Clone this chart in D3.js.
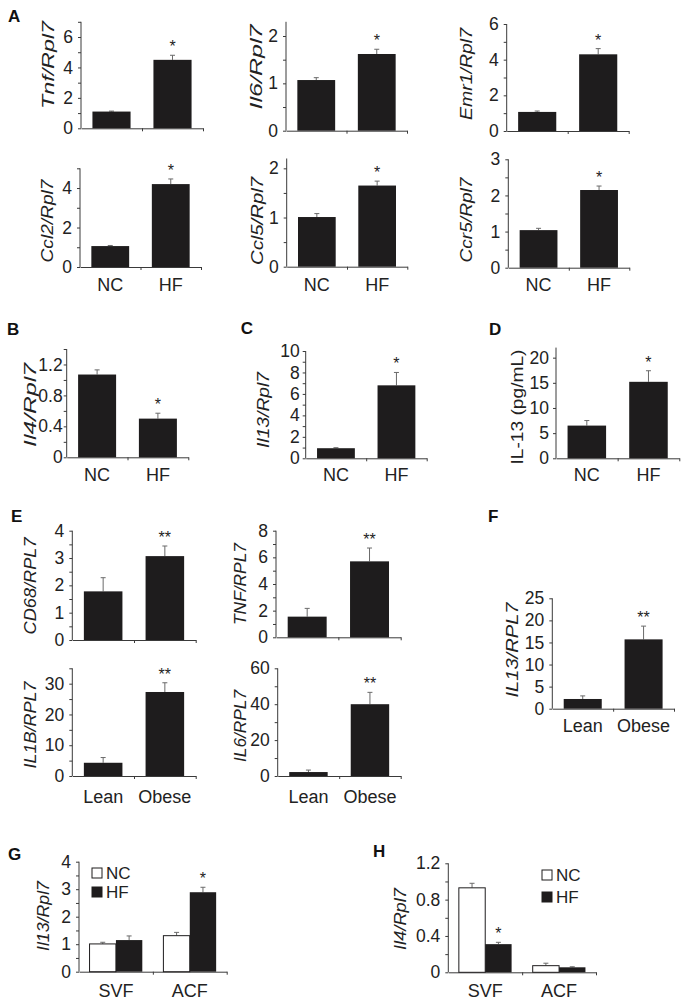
<!DOCTYPE html>
<html><head><meta charset="utf-8">
<script src="https://cdn.jsdelivr.net/npm/d3@7"></script>
<style>
html,body{margin:0;padding:0;background:#fff;}
svg{display:block;font-family:"Liberation Sans",Arial,sans-serif;}
</style></head>
<body>
<svg id="fig" width="689" height="1003"></svg>
<script>
// ---------- DATA ----------
const diets = ["NC", "HF"];
const people = ["Lean", "Obese"];
const fractions = ["SVF", "ACF"];

// Panel A (mouse adipose tissue, relative to Rpl7)
const tnfMean = [1.1, 4.5],    tnfSem = [0.03, 0.3],   tnfSig = ["", "*"];
const il6Mean = [1.07, 1.62],  il6Sem = [0.05, 0.1],   il6Sig = ["", "*"];
const emr1Mean = [1.07, 4.3],  emr1Sem = [0.05, 0.32], emr1Sig = ["", "*"];
const ccl2Mean = [1.06, 4.2],  ccl2Sem = [0.03, 0.26], ccl2Sig = ["", "*"];
const ccl5Mean = [1.01, 1.65], ccl5Sem = [0.07, 0.09], ccl5Sig = ["", "*"];
const ccr5Mean = [1.04, 2.15], ccr5Sem = [0.05, 0.11], ccr5Sig = ["", "*"];
// Panel B, C, D
const il4Mean = [1.07, 0.5],   il4Sem = [0.06, 0.07],  il4Sig = ["", "*"];
const il13Mean = [0.94, 6.8],  il13Sem = [0.05, 1.2],  il13Sig = ["", "*"];
const il13PgMean = [6.5, 15.2], il13PgSem = [1.0, 2.2], il13PgSig = ["", "*"];
// Panel E (human)
const cd68Mean = [1.78, 3.07], cd68Sem = [0.5, 0.37],  cd68Sig = ["", "**"];
const tnfHMean = [1.55, 5.7],  tnfHSem = [0.62, 1.0],  tnfHSig = ["", "**"];
const il1bMean = [4.3, 27.3],  il1bSem = [1.7, 3.0],   il1bSig = ["", "**"];
const il6HMean = [2.2, 40],    il6HSem = [1.1, 6.6],   il6HSig = ["", "**"];
// Panel F
const il13HMean = [2.2, 15.7], il13HSem = [0.7, 3.0],  il13HSig = ["", "**"];
// Panel G (Il13 by fraction)
const il13FracNC = [1.01, 1.31], il13FracNCSem = [0.06, 0.12];
const il13FracHF = [1.15, 2.89], il13FracHFSem = [0.15, 0.18];
const il13FracSig = ["", "*"];
// Panel H (Il4 by fraction)
const il4FracNC = [0.93, 0.073], il4FracNCSem = [0.05, 0.027];
const il4FracHF = [0.31, 0.055], il4FracHFSem = [0.02, 0.006];
const il4FracSig = ["*", ""];

// ---------- DRAWING ----------
const svg = d3.select("#fig");
const BAR = "#1e1c1d", AX = "#3a3a3a", ERR = "#6a6a6a";

function fmt(v){ return String(Math.round(v*1000)/1000); }

function panel(c){
  const g = svg.append("g");
  const n = c.cats.length;
  const x = d3.scaleBand().domain(c.cats).range([c.x0, c.x1]);
  const y = d3.scaleLinear().domain([0, c.max]).range([c.zero, c.top]);
  const ticks = d3.range(0, c.max + 1e-9, c.step);
  const yAx = d3.axisLeft(y).tickValues(ticks).tickSize(3).tickSizeOuter(0)
    .tickPadding(c.pad ?? 5)
    .tickFormat(v => c.labels.some(l => Math.abs(l - v) < 1e-9) ? fmt(v) : "");
  const ya = g.append("g").attr("transform", `translate(${c.x0},0)`).call(yAx);
  ya.select(".domain").attr("stroke", AX).attr("d", `M0,${c.zero}V${c.top}`);
  ya.selectAll(".tick line").attr("stroke", AX);
  ya.selectAll(".tick text").attr("fill", "#222").style("font-size", (c.fs||17.5)+"px")
    .style("font-family", '"Liberation Sans",Arial,sans-serif');
  // x axis
  const xi = d3.scaleLinear().domain([0, n]).range([c.x0, c.x1]);
  const xAx = d3.axisBottom(xi).tickValues(d3.range(1, n+1)).tickSize(3).tickSizeOuter(0).tickFormat("");
  const xa = g.append("g").attr("transform", `translate(0,${c.zero})`).call(xAx);
  xa.select(".domain").attr("stroke", AX);
  xa.selectAll(".tick line").attr("stroke", AX);
  if (c.labY != null) {
    g.selectAll(".xl").data(c.cats).enter().append("text")
      .attr("x", d => x(d) + x.bandwidth()/2).attr("y", c.labY)
      .attr("text-anchor", "middle").style("font-size", "18px").attr("fill", "#222").text(d => d);
  }
  // series
  const inner = d3.scaleBand().domain(d3.range(c.series.length))
    .range([0, x.bandwidth()]).paddingInner(0).paddingOuter(c.outer);
  c.series.forEach((s, si) => {
    c.cats.forEach((cat, i) => {
      const bx = x(cat) + inner(si), bw = inner.bandwidth();
      const v = s.mean[i], top = y(v), et = y(v + s.sem[i]);
      const cx = bx + bw/2;
      g.append("line").attr("x1", cx).attr("x2", cx).attr("y1", top).attr("y2", et)
        .attr("stroke", ERR).attr("stroke-width", 1);
      g.append("line").attr("x1", cx-2.5).attr("x2", cx+2.5).attr("y1", et).attr("y2", et)
        .attr("stroke", ERR).attr("stroke-width", 1);
      g.append("rect").attr("x", bx).attr("y", top).attr("width", bw).attr("height", c.zero - top)
        .attr("fill", s.fill).attr("stroke", s.stroke || "none").attr("stroke-width", 1);
      if (s.sig && s.sig[i]) {
        g.append("text").attr("x", cx).attr("y", et - 3).attr("text-anchor", "middle")
          .style("font-size", "16px").attr("fill", "#222").text(s.sig[i]);
      }
    });
  });
  // y title
  g.append("text").attr("transform", `translate(${c.tx},${c.ty}) rotate(-90)`)
    .attr("text-anchor", "middle").attr("dy", "0.35em")
    .style("font-size", "17px").style("font-style", c.italic === false ? "normal" : "italic")
    .attr("textLength", c.tl).attr("lengthAdjust", "spacingAndGlyphs")
    .attr("fill", "#222").text(c.title);
  // legend
  if (c.legend) {
    c.series.forEach((s, si) => {
      g.append("rect").attr("x", c.legend[0]).attr("y", c.legend[1] + si*c.legend[2])
        .attr("width", 10).attr("height", 10).attr("fill", s.fill).attr("stroke", "#1e1c1d");
      g.append("text").attr("x", c.legend[0] + 14).attr("y", c.legend[1] + si*c.legend[2] + 10.5)
        .style("font-size", "17px").attr("fill", "#222").text(s.name);
    });
  }
}
function one(mean, sem, sig){ return [{mean, sem, sig, fill: BAR}]; }

// Panel A
panel({cats: diets, series: one(tnfMean, tnfSem, tnfSig), x0: 81, x1: 203, zero: 128.3, top: 21.8, max: 7, step: 1, labels: [0,2,4,6], outer: 0.3, labY: null, title: "Tnf/Rpl7", tx: 48, ty: 65, tl: 88});
panel({cats: diets, series: one(il6Mean, il6Sem, il6Sig), x0: 286, x1: 407, zero: 130.7, top: 21.8, max: 2.3, step: 0.5, labels: [0,1,2], outer: 0.3, labY: null, title: "Il6/Rpl7", tx: 256, ty: 67, tl: 85});
panel({cats: diets, series: one(emr1Mean, emr1Sem, emr1Sig), x0: 506.7, x1: 628.7, zero: 131, top: 24, max: 6, step: 1, labels: [0,2,4,6], outer: 0.3, labY: null, title: "Emr1/Rpl7", tx: 466, ty: 74, tl: 92});
panel({cats: diets, series: one(ccl2Mean, ccl2Sem, ccl2Sig), x0: 80, x1: 201, zero: 267, top: 168.3, max: 5, step: 1, labels: [0,2,4], outer: 0.3, labY: 291, title: "Ccl2/Rpl7", tx: 47, ty: 221, tl: 83});
panel({cats: diets, series: one(ccl5Mean, ccl5Sem, ccl5Sig), x0: 286.7, x1: 407.3, zero: 266.7, top: 158.5, max: 2.2, step: 0.5, labels: [0,1,2], outer: 0.3, labY: 291, title: "Ccl5/Rpl7", tx: 256.7, ty: 221, tl: 88});
panel({cats: diets, series: one(ccr5Mean, ccr5Sem, ccr5Sig), x0: 508.3, x1: 629.3, zero: 267.7, top: 159.3, max: 3, step: 0.5, labels: [0,1,2,3], outer: 0.3, labY: 291, title: "Ccr5/Rpl7", tx: 466, ty: 220, tl: 85});
// Panel B, C, D
panel({cats: diets, series: one(il4Mean, il4Sem, il4Sig), x0: 66.7, x1: 188.3, zero: 457.3, top: 349, max: 1.4, step: 0.2, labels: [0,0.4,0.8,1.2], outer: 0.3, pad: 1, labY: 481, title: "Il4/Rpl7", tx: 30, ty: 405, tl: 84});
panel({cats: diets, series: one(il13Mean, il13Sem, il13Sig), x0: 305.7, x1: 426.7, zero: 458.3, top: 351, max: 10, step: 1, labels: [0,2,4,6,8,10], outer: 0.3, pad: 3, labY: 481, title: "Il13/Rpl7", tx: 263, ty: 410, tl: 76});
panel({cats: diets, series: one(il13PgMean, il13PgSem, il13PgSig), x0: 556, x1: 679.3, zero: 458.3, top: 347.6, max: 22, step: 5, labels: [0,5,10,15,20], outer: 0.3, pad: 4, labY: 481, title: "IL-13 (pg/mL)", italic: false, tx: 517, ty: 407, tl: 115});
// Panel E
panel({cats: people, series: one(cd68Mean, cd68Sem, cd68Sig), x0: 72.3, x1: 195.7, zero: 640, top: 530.7, max: 4, step: 0.5, labels: [0,1,2,3,4], outer: 0.3, labY: null, title: "CD68/RPL7", tx: 30, ty: 586, tl: 97});
panel({cats: people, series: one(tnfHMean, tnfHSem, tnfHSig), x0: 276, x1: 400.7, zero: 637.3, top: 530.7, max: 8, step: 1, labels: [0,2,4,6,8], outer: 0.3, labY: null, title: "TNF/RPL7", tx: 240, ty: 584, tl: 82});
panel({cats: people, series: one(il1bMean, il1bSem, il1bSig), x0: 72.3, x1: 195.7, zero: 776, top: 668.3, max: 35, step: 5, labels: [0,10,20,30], outer: 0.3, labY: 803, title: "IL1B/RPL7", tx: 30, ty: 725, tl: 87});
panel({cats: people, series: one(il6HMean, il6HSem, il6HSig), x0: 277.7, x1: 400.7, zero: 776, top: 668.3, max: 60, step: 10, labels: [0,20,40,60], outer: 0.3, labY: 803, title: "IL6/RPL7", tx: 240, ty: 726, tl: 72});
// Panel F
panel({cats: people, series: one(il13HMean, il13HSem, il13HSig), x0: 552.3, x1: 674, zero: 708.7, top: 598.3, max: 25, step: 5, labels: [0,5,10,15,20,25], outer: 0.3, labY: 732, title: "IL13/RPL7", tx: 511.7, ty: 650, tl: 95});
// Panel G
panel({cats: fractions, series: [
    {name: "NC", mean: il13FracNC, sem: il13FracNCSem, fill: "#fff", stroke: "#1e1c1d"},
    {name: "HF", mean: il13FracHF, sem: il13FracHFSem, sig: il13FracSig, fill: BAR}],
  x0: 79, x1: 226.7, zero: 971.7, top: 861.7, max: 4, step: 0.5, labels: [0,1,2,3,4], outer: 0.4, labY: 997,
  title: "Il13/Rpl7", tx: 43, ty: 916, tl: 70, legend: [92, 868, 19]});
// Panel H
panel({cats: fractions, series: [
    {name: "NC", mean: il4FracNC, sem: il4FracNCSem, fill: "#fff", stroke: "#1e1c1d"},
    {name: "HF", mean: il4FracHF, sem: il4FracHFSem, sig: il4FracSig, fill: BAR}],
  x0: 448.3, x1: 596, zero: 972.3, top: 863.3, max: 1.2, step: 0.2, labels: [0,0.4,0.8,1.2], outer: 0.4, labY: 997,
  title: "Il4/Rpl7", tx: 400, ty: 919, tl: 62, legend: [542, 870, 22]});

// Panel letters
const letters = [["A",8,22],["B",7,335],["C",240.7,334],["D",489,335],["E",11,521.7],["F",488,521.7],["G",8,860],["H",373,857]];
svg.selectAll(".plab").data(letters).enter().append("text")
  .attr("x", d => d[1]).attr("y", d => d[2]).style("font-size", "17px").style("font-weight", "bold")
  .attr("fill", "#111").text(d => d[0]);
</script>
</body></html>
